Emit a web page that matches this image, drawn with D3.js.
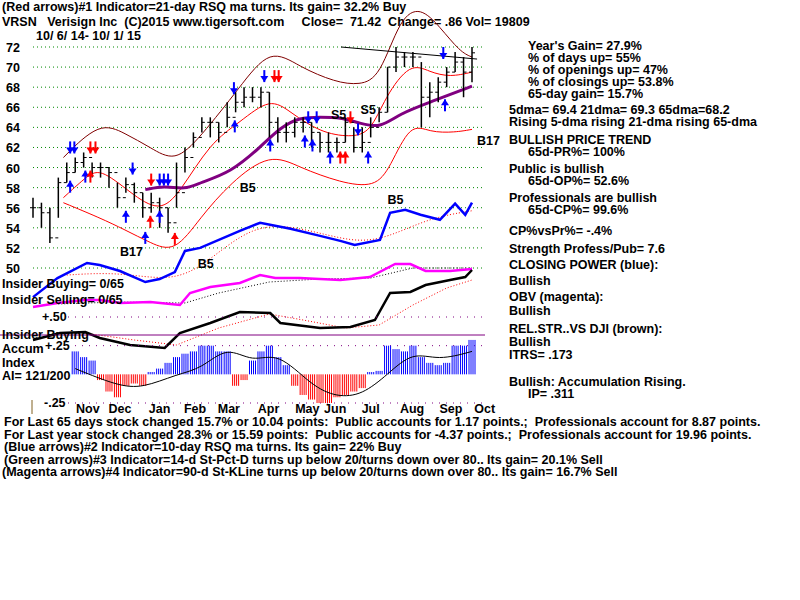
<!DOCTYPE html>
<html><head><meta charset="utf-8">
<script src="https://cdn.jsdelivr.net/npm/d3@7"></script>
<style>body{margin:0;background:#fff}text{font-family:"Liberation Sans",Arial,sans-serif;font-weight:bold;font-size:12.5px}</style>
</head><body><div id="chart"></div>
<script>
// weekly price bars, week 0 = 10/6/14
var closes = [56,55.5,53,58.5,59.5,60.5,61,60,60,59.5,57,58.3,57.5,56,56.5,56,54.5,57.5,61,63,64.5,64.5,63.5,65,66.5,67,67,67.5,64.5,63.5,63.5,64.5,64.5,63.5,62.5,62.5,62.5,64.5,62,62.5,64,65.5,70,71,71,71,67,67.5,68.5,69.5,70.5,69.5,71.42];
var highs = [57,56.5,56,59,60.5,61,61.5,60.5,60.5,60,58.5,59,58.5,57.5,57.5,57,56,60.5,62,63.5,65,65,64.5,66.5,67.5,68,68,68,67.5,65,64.5,65,65,64.5,63.5,63.5,63,65,64,64,65,66,70,72,71.5,71.5,70.5,68.5,69,70,71.5,71,72];
var lows = [55,54,52.5,55,58.5,59.5,60,59,59,58,56,57.5,56.5,55,55.5,54,53.5,56,59.5,62,63.5,63,62.5,64,65.5,66,66.5,66,63,62.5,62.5,63,63.5,62,61.5,61.5,61.5,62.5,61.5,61.5,63,64.5,65.5,69.5,70,70,64,65,66.5,68,69.5,67,68.5];
var upperBand = [[3.6,61],[7.9,64.6],[10.9,63.4],[13.9,62],[16.8,60.5],[19.8,63],[24.5,68],[28.1,72],[31.6,70],[35.8,68.5],[38.7,68.2],[41.1,69],[43.5,75],[45.9,76],[48.2,74],[50.6,71.5],[52,71]];
var lowerBand = [[3.6,56.5],[7.9,55],[10.9,53.8],[13.9,52.5],[16.8,51.5],[19.8,55],[23.4,58.5],[28.1,61.5],[31.6,60],[36.4,58.5],[40.5,58],[42.3,60],[44.7,64.5],[47,63.5],[50,63.5],[52,63.8]];
var ma21 = [[3.6,57],[6.2,59],[7.9,60],[11.5,57.5],[15,55.5],[17.4,57.5],[21,62.5],[24.5,64.5],[28.1,67],[30.5,65.5],[34,63.5],[37.6,63],[40,63.5],[41.7,67],[44.7,70.5],[47,69.5],[49.4,69],[52,69.5]];
var ma65 = [[13.3,57.8],[15.6,58.2],[18,57.8],[19.8,58.5],[23.4,59.5],[26.9,62],[29.3,64],[31.6,65],[34,65],[36.4,65],[38.7,64.4],[41.1,63.9],[43.5,65.4],[47,66.5],[52,68.1]];
var closingPower = [[0,47.1],[2.9,49],[6.4,50.5],[7.9,50.3],[10.3,49.7],[13.3,48.6],[15,48.9],[16.8,49.6],[18,51.7],[19.8,52],[24.5,53.7],[26.9,54.5],[30.5,53.9],[34,53.2],[36.4,52.7],[38.1,52.3],[41.1,52.8],[42.3,55.5],[44.1,55.8],[45.9,55.3],[48.2,54.8],[50,56.4],[51.2,55.3],[52,56.5]];
var cpMa = [[4,49.3],[10,49.6],[16,48.7],[20,50],[26,54.5],[32,54],[38,52.5],[42,53],[47,55],[52,55.7]];
// OBV and relative strength in chart-panel units (0 = bottom of panel, 100 = top)
var obv = [[0,43],[2.9,47],[6.2,50],[7.9,50],[10.3,47],[13.9,48],[17.4,45],[18.6,57],[21,63],[24.5,67],[26.9,75],[28.7,72],[31.6,72],[36.4,70],[39.9,73],[42.9,86],[44.7,86],[46.5,79],[49.4,79],[52,81]];
var obvMa = [[3,46],[10,48],[18,47],[22,57],[28,68],[34,71],[40,72],[45,82],[52,82]];
var relStr = [[0,10],[3.2,17],[6.2,18],[7.9,12],[11.5,5],[15.6,2],[17.4,17],[21,27],[24.5,38],[28.1,37],[29.3,27],[34,22],[37.6,23],[40.5,30],[42.3,57],[44.7,58],[46.5,65],[49.4,70],[51.2,73],[52,80]];
var relStrMa = [[6,17],[12,10],[17,5],[22,22],[28,36],[32,30],[37,22],[41,25],[45,45],[49,62],[52,70]];
var accum = [0.2,0.15,0.12,-0.05,-0.15,-0.2,-0.1,-0.08,-0.1,0.02,0.05,0.1,0.15,0.18,0.2,0.25,0.25,0.2,0.2,-0.1,-0.05,0.12,0.2,0.25,0.15,0.08,-0.1,-0.18,-0.22,-0.25,-0.25,-0.2,-0.18,-0.15,-0.12,0.02,0.03,0.25,0.22,0.2,0.25,0.15,0.1,0.08,0.1,0.25,0.25,0.3];
var accumStart = 5;
var accumMa = [[5,0.05],[10,-0.1],[13,-0.12],[17,0],[20,0.05],[23,0.25],[26,0.1],[29,0.2],[33,-0.1],[36,-0.2],[39,-0.18],[42,0],[45,0.2],[48,0.12],[52,0.2]];
var priceTicks = [50,52,54,56,58,60,62,64,66,68,70,72];
var months = ["Nov","Dec","Jan","Feb","Mar","Apr","May","Jun","Jul","Aug","Sep","Oct"];
var monthWeeks = [6.5,10.3,15,19.2,23.2,27.9,32.5,35.8,40,44.9,49.5,53.5];
var arrows = [
  [4.4,57.5,"blue","up"],[6.2,58.5,"blue","up"],[6.8,58.5,"red","up"],[11,54.5,"blue","up"],[13.9,54,"red","up"],[15,54.5,"blue","up"],
  [16.8,52.3,"red","up"],[13.3,52.4,"blue","up"],[23.9,63.5,"blue","up"],[28.1,61.6,"blue","up"],[32.2,62,"blue","up"],[33.1,61.6,"blue","up"],
  [35.2,60.4,"blue","up"],[36.4,60.4,"red","up"],[37,60.4,"red","up"],[39.7,60.4,"blue","up"],[48.8,65.6,"blue","up"],
  [4.4,62.6,"blue","down"],[4.9,62.6,"blue","down"],[6.8,62.6,"red","down"],[7.4,62.6,"red","down"],[11.8,60.5,"blue","down"],[14,59.4,"red","down"],
  [15,59.4,"blue","down"],[15.5,59.4,"blue","down"],[16,59.4,"blue","down"],[23.8,68.5,"blue","down"],[27.4,69.7,"blue","down"],
  [28.6,69.7,"red","down"],[29.1,69.7,"red","down"],[32.6,65.6,"blue","down"],[33.6,65.6,"blue","down"],[37.6,65.6,"red","down"],[38.5,64.4,"blue","down"],[48.6,72,"blue","down"]
];
var signals = [["S5",35.3,64.8],["S5",38.8,65.3],["B5",24.5,57.6],["B5",42,56.4],["B17",52.6,62.2],["B17",10.3,51.2],["B5",19.5,50]];
var rightTexts = [
  [528,50,"Year's Gain= 27.9%"],[528,62,"% of days up= 55%"],[528,74,"% of openings up= 47%"],[528,86,"% of closings up= 53.8%"],[528,98,"65-day gain= 15.7%"],
  [509,114,"5dma= 69.4 21dma= 69.3 65dma=68.2"],[509,126,"Rising 5-dma rising 21-dma rising 65-dma"],[509,144,"BULLISH PRICE TREND"],[528,156,"65d-PR%= 100%"],
  [509,173,"Public is bullish"],[528,185,"65d-OP%= 52.6%"],[509,202,"Professionals are bullish"],[528,214,"65d-CP%= 99.6%"],[509,235,"CP%vsPr%= -.4%"],
  [509,253,"Strength Profess/Pub= 7.6"],[509,269,"CLOSING POWER (blue):"],[509,285,"Bullish"],[509,301,"OBV (magenta):"],[509,315,"Bullish"],
  [509,333,"REL.STR..VS DJI (brown):"],[509,346,"Bullish"],[509,359,"ITRS= .173"],[509,386,"Bullish: Accumulation Rising."],[528,398,"IP= .311"]
];
var bottomTexts = [
  "For Last 65 days stock changed 15.7% or 10.04 points:  Public accounts for 1.17 points.;  Professionals account for 8.87 points.",
  "For Last year stock changed 28.3% or 15.59 points:  Public accounts for -4.37 points.;  Professionals account for 19.96 points.",
  "(Blue arrows)#2 Indicator=10-day RSQ ma turns. Its gain= 22% Buy",
  "(Green arrows)#3 Indicator=14-d St-Pct-D turns up below 20/turns down over 80.. Its gain= 20.1% Sell",
  "(Magenta arrows)#4 Indicator=90-d St-KLine turns up below 20/turns down over 80.. Its gain= 16.7% Sell"
];

var svg = d3.select("#chart").append("svg").attr("width", 800).attr("height", 600);
var x = d3.scaleLinear().domain([0, 52]).range([33, 472]);
var y = d3.scaleLinear().domain([50, 72]).range([268, 47]);
var yInd = d3.scaleLinear().domain([0, 100]).range([350, 250]);
var yAcc = d3.scaleLinear().domain([-0.25, 0.5]).range([403, 317]);

// header
svg.append("text").attr("x", 2).attr("y", 11).text("(Red arrows)#1 Indicator=21-day RSQ ma turns. Its gain= 32.2% Buy");
svg.append("text").attr("x", 2).attr("y", 26).attr("font-size", "12px").attr("xml:space", "preserve").text("VRSN   Verisign Inc  (C)2015 www.tigersoft.com     Close=  71.42  Change= .86 Vol= 19809");
svg.append("text").attr("x", 36).attr("y", 40).text("10/ 6/ 14- 10/ 1/ 15");

// price grid
priceTicks.forEach(function(t) {
  svg.append("line").attr("x1", 33).attr("x2", 482).attr("y1", y(t)).attr("y2", y(t))
    .attr("stroke", "#080").attr("stroke-dasharray", "1,3");
  svg.append("text").attr("x", 6).attr("y", y(t) + 5).attr("font-size", "13px").text(t);
});

var line = d3.line().x(function(d) { return x(d[0]); }).y(function(d) { return y(d[1]); }).curve(d3.curveBasis);
var lineInd = d3.line().x(function(d) { return x(d[0]); }).y(function(d) { return yInd(d[1]); });
function path(data, gen, color, w, dash) {
  svg.append("path").datum(data).attr("d", gen).attr("fill", "none").attr("stroke", color)
    .attr("stroke-width", w).attr("stroke-dasharray", dash || null);
}
path(upperBand, line, "#800000", 1);
path(lowerBand, line, "#f00", 1);
path(ma21, line, "#f00", 1);
path(ma65, line, "#800080", 3);
path(cpMa, line, "#f00", 1, "1,2");
path(closingPower, d3.line().x(function(d) { return x(d[0]); }).y(function(d) { return y(d[1]); }), "#00f", 2.5);
path(obvMa, lineInd, "#000", 1, "1,2");
path(obv, lineInd, "#f0f", 2.5);
path(relStrMa, lineInd, "#f00", 1, "1,2");
path(relStr, lineInd, "#000", 2.5);
svg.append("line").attr("x1", x(36.5)).attr("x2", x(52.6)).attr("y1", y(72)).attr("y2", y(70.8)).attr("stroke", "#000");

// bars
closes.forEach(function(c, i) {
  svg.append("line").attr("x1", x(i)).attr("x2", x(i)).attr("y1", y(highs[i])).attr("y2", y(lows[i])).attr("stroke", "#000").attr("stroke-width", 1.5);
  svg.append("line").attr("x1", x(i)).attr("x2", x(i) + 3).attr("y1", y(c)).attr("y2", y(c)).attr("stroke", "#000");
  svg.append("line").attr("x1", x(i) - 3).attr("x2", x(i)).attr("y1", y(i ? closes[i - 1] : c)).attr("y2", y(i ? closes[i - 1] : c)).attr("stroke", "#000");
});

// arrows
arrows.forEach(function(a) {
  var ax = x(a[0]), ay = y(a[1]), dir = a[3] === "up" ? -1 : 1;
  svg.append("line").attr("x1", ax).attr("x2", ax).attr("y1", ay).attr("y2", ay + dir * 12).attr("stroke", a[2]).attr("stroke-width", 2);
  svg.append("path").attr("fill", a[2]).attr("d",
    "M" + (ax - 4) + "," + (ay + dir * 6) + "L" + ax + "," + (ay + dir * 12) + "L" + (ax + 4) + "," + (ay + dir * 6) + "Z");
});
signals.forEach(function(s) {
  svg.append("text").attr("x", x(s[1])).attr("y", y(s[2])).attr("font-size", "14px").text(s[0]);
});

// accumulation panel
[0.5, 0.25, -0.25].forEach(function(v) {
  svg.append("line").attr("x1", 68).attr("x2", 482).attr("y1", yAcc(v)).attr("y2", yAcc(v)).attr("stroke", "#800080").attr("stroke-dasharray", "1,6");
});
svg.append("line").attr("x1", 0).attr("x2", 485).attr("y1", 335).attr("y2", 335).attr("stroke", "#800080");
accum.forEach(function(v, i) {
  var wx = x(i + accumStart);
  for (var k = -3; k <= 3; k += 2) {
    svg.append("line").attr("x1", wx + k).attr("x2", wx + k).attr("y1", yAcc(0)).attr("y2", yAcc(v))
      .attr("stroke", v >= 0 ? "#00f" : "#f00").attr("stroke-width", 1);
  }
});
path(accumMa, d3.line().x(function(d) { return x(d[0]); }).y(function(d) { return yAcc(d[1]); }).curve(d3.curveBasis), "#000", 1);

svg.append("text").attr("x", 2).attr("y", 288).text("Insider Buying= 0/65");
svg.append("text").attr("x", 2).attr("y", 304).text("Insider Selling= 0/65");
svg.append("text").attr("x", 42).attr("y", 321).text("+.50");
svg.append("text").attr("x", 2).attr("y", 339).text("Insider Buying");
svg.append("text").attr("x", 2).attr("y", 353).text("Accum");
svg.append("text").attr("x", 45).attr("y", 350).text("+.25");
svg.append("text").attr("x", 2).attr("y", 367).text("Index");
svg.append("text").attr("x", 2).attr("y", 380).text("AI= 121/200");
svg.append("text").attr("x", 44).attr("y", 407).text("-.25");
svg.append("line").attr("x1", 32).attr("x2", 32).attr("y1", 400).attr("y2", 414).attr("stroke", "#806020");

months.forEach(function(m, i) {
  svg.append("text").attr("x", x(monthWeeks[i])).attr("y", 413).attr("text-anchor", "middle").text(m);
});
rightTexts.forEach(function(t) { svg.append("text").attr("x", t[0]).attr("y", t[1]).text(t[2]); });
bottomTexts.forEach(function(t, i) {
  svg.append("text").attr("x", i === 4 ? 2 : 4).attr("y", 426 + i * 12.5).attr("xml:space", "preserve").text(t);
});
</script></body></html>
